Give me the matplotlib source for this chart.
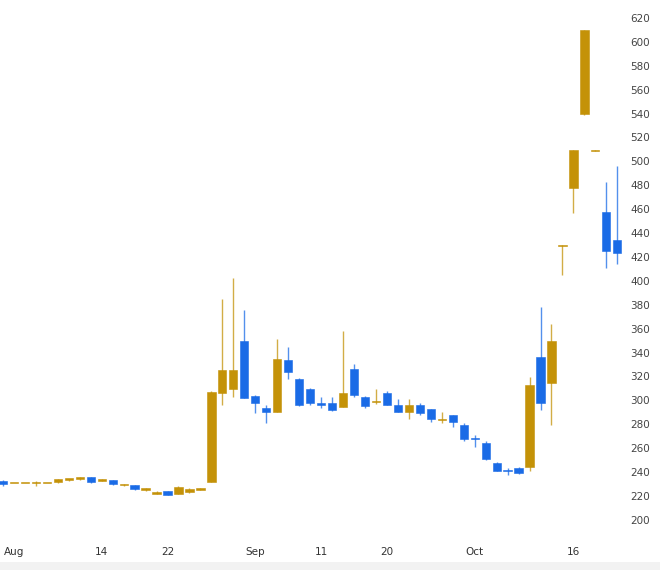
import numpy as np
import matplotlib.pyplot as plt
from matplotlib.patches import Rectangle

# daily OHLC
opens = [232.5, 230.8, 230.8, 230.8, 230.6, 231.6, 233.8, 234.6, 235.6, 232.4,
         233.4, 229.2, 229.2, 225.0, 221.9, 224.2, 221.9, 223.6, 225.0, 231.7,
         306.0, 309.3, 350.0, 303.7, 293.4, 290.5, 333.8, 317.7, 309.5, 297.6,
         297.6, 294.7, 326.3, 303.0, 298.5, 306.4, 296.2, 290.5, 296.2, 292.6,
         283.5, 287.8, 279.4, 268.5, 264.6, 247.9, 241.5, 243.2, 244.0, 336.6,
         314.3, 429.5, 477.5, 539.4, 509.0, 457.4, 434.2]
highs = [233.0, 231.2, 231.2, 232.8, 231.0, 234.2, 234.5, 236.3, 236.0, 234.3,
         233.8, 229.8, 229.6, 226.6, 224.5, 224.5, 228.1, 227.0, 226.6, 307.5,
         385.0, 402.7, 375.6, 304.5, 296.2, 351.4, 344.4, 318.5, 310.0, 302.6,
         303.0, 358.1, 330.5, 304.0, 309.5, 308.0, 301.0, 301.0, 298.1, 293.0,
         290.5, 288.2, 280.8, 271.0, 266.0, 248.2, 243.2, 244.5, 319.3, 378.4,
         363.7, 430.0, 509.8, 610.0, 509.5, 482.5, 496.2]
lows = [228.5, 230.8, 230.8, 228.5, 230.6, 230.8, 232.3, 233.0, 231.0, 232.4,
        229.5, 228.4, 225.4, 224.2, 221.9, 220.5, 221.5, 222.8, 225.0, 231.5,
        296.2, 303.0, 302.0, 289.7, 281.3, 290.0, 317.7, 295.5, 296.2, 293.4,
        291.5, 294.5, 302.6, 293.4, 296.8, 296.0, 290.0, 284.4, 287.8, 281.6,
        280.8, 278.0, 266.3, 261.3, 250.5, 240.7, 237.6, 238.8, 241.2, 292.0,
        279.4, 405.0, 456.6, 538.5, 509.0, 410.5, 413.9]
closes = [230.0, 231.2, 231.2, 231.2, 231.0, 234.2, 234.3, 236.0, 232.0, 234.2,
          230.3, 229.7, 225.6, 226.4, 223.6, 220.8, 227.3, 226.1, 226.4, 307.0,
          325.4, 325.5, 302.3, 297.6, 290.0, 334.6, 324.0, 296.2, 298.1, 296.4,
          292.0, 306.4, 304.5, 295.3, 299.4, 296.2, 290.5, 296.2, 289.2, 284.3,
          284.0, 282.2, 267.7, 268.0, 250.7, 240.9, 241.0, 239.0, 312.9, 298.1,
          350.0, 430.0, 509.5, 610.0, 509.5, 425.3, 423.1]

x_tick_pos = [1, 9, 15, 23, 29, 35, 43, 52]
x_tick_labels = ['Aug', '14', '22', 'Sep', '11', '20', 'Oct', '16']
y_ticks = np.arange(200, 621, 20)

up_color = '#C49208'
down_color = '#1A6BE6'

fig = plt.figure(figsize=(6.6, 5.7), dpi=100)
ax = fig.add_axes([0, 30 / 570, 625 / 660, 540 / 570])

x = np.arange(len(opens))
o = np.array(opens)
c = np.array(closes)
colors = [up_color if cc >= oo else down_color for oo, cc in zip(o, c)]

# wicks
ax.vlines(x, lows, highs, colors=colors, linewidth=1.0, alpha=0.75, zorder=1)

# bodies (keep at least ~1px tall for dojis)
bottom = np.minimum(o, c)
height = np.maximum(np.abs(c - o), 0.9)
ax.bar(x, height, bottom=bottom, width=0.75, color=colors,
       edgecolor=colors, linewidth=0.4, zorder=2)

ax.set_xlim(-0.27, 56.7)
ax.set_ylim(183.2, 635)

ax.yaxis.tick_right()
ax.set_yticks(y_ticks)
ax.set_yticklabels([str(v) for v in y_ticks])
ax.tick_params(axis='y', length=0, pad=4, labelsize=7.5, labelcolor='#444444')
ax.set_xticks(x_tick_pos)
ax.set_xticklabels(x_tick_labels)
ax.tick_params(axis='x', length=0, pad=5, labelsize=7.5, labelcolor='#333333')

for s in ax.spines.values():
    s.set_visible(False)

# light strip at the very bottom
fig.patches.append(Rectangle((0, 0), 1, 8 / 570, transform=fig.transFigure,
                             facecolor='#f2f2f2', edgecolor='none'))

fig.savefig('out.png', dpi=100)
